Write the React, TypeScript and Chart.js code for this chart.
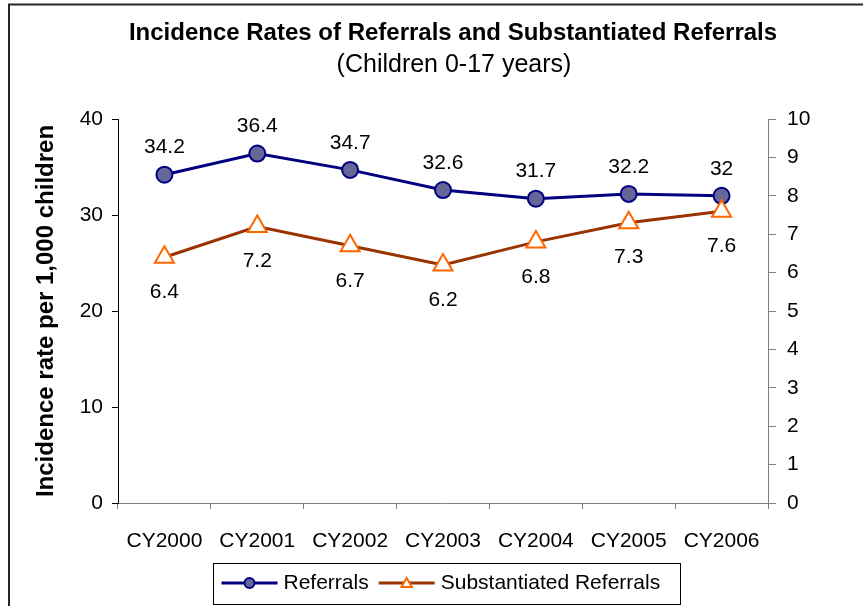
import { useEffect, useRef } from "react";
import { Chart, registerables } from "chart.js";

Chart.register(...registerables);

const categories = ["CY2000", "CY2001", "CY2002", "CY2003", "CY2004", "CY2005", "CY2006"];
const referrals = [34.2, 36.4, 34.7, 32.6, 31.7, 32.2, 32];
const substantiated = [6.4, 7.2, 6.7, 6.2, 6.8, 7.3, 7.6];
const leftAxisRange = [0, 40, 10]; // min, max, step
const rightAxisRange = [0, 10, 1];
const seriesNames = ["Referrals", "Substantiated Referrals"];
const titleText = "Incidence Rates of Referrals and Substantiated Referrals";
const subtitleText = "(Children 0-17 years)";
const yTitleText = "Incidence rate per 1,000 children";

const FAMILY = "'Liberation Sans', Arial, Helvetica, sans-serif";

const NAVY = "#000080";
const CIRCLE_FILL = "#666699";
const BROWN = "#993300";
const ORANGE = "#FF6600";

function drawMarker(ctx: CanvasRenderingContext2D, kind: string, x: number, y: number, r: number) {
  ctx.save();
  ctx.lineWidth = 2;
  ctx.beginPath();
  if (kind === "circle") {
    ctx.arc(x, y, r, 0, Math.PI * 2);
    ctx.fillStyle = CIRCLE_FILL;
    ctx.strokeStyle = NAVY;
  } else {
    const h = r * 1.5;
    const w = r * Math.sqrt(3);
    ctx.moveTo(x, y - r);
    ctx.lineTo(x + w / 2, y - r + h);
    ctx.lineTo(x - w / 2, y - r + h);
    ctx.closePath();
    ctx.fillStyle = "#ffffff";
    ctx.strokeStyle = ORANGE;
  }
  ctx.fill();
  ctx.stroke();
  ctx.restore();
}

const framePlugin = {
  id: "frame",
  beforeDraw(chart: any) {
    const ctx = chart.ctx as CanvasRenderingContext2D;
    ctx.save();
    ctx.fillStyle = "#ffffff";
    ctx.fillRect(0, 0, chart.width, chart.height);
    ctx.strokeStyle = "#262626";
    ctx.lineWidth = 2;
    ctx.strokeRect(9, 4.5, chart.width + 20, chart.height + 20);
    ctx.restore();
  },
};

const titlePlugin = {
  id: "titles",
  afterDraw(chart: any) {
    const ctx = chart.ctx as CanvasRenderingContext2D;
    ctx.save();
    ctx.fillStyle = "#000";
    ctx.textAlign = "center";
    ctx.textBaseline = "middle";
    ctx.font = `bold 24px ${FAMILY}`;
    ctx.fillText(titleText, 453, 33);
    ctx.font = `25px ${FAMILY}`;
    ctx.fillText(subtitleText, 454, 65);
    ctx.restore();
  },
};

const dataLabelPlugin = {
  id: "dataLabels",
  afterDatasetsDraw(chart: any) {
    const ctx = chart.ctx as CanvasRenderingContext2D;
    ctx.save();
    ctx.fillStyle = "#000";
    ctx.textAlign = "center";
    ctx.textBaseline = "middle";
    ctx.font = `21px ${FAMILY}`;
    chart.data.datasets.forEach((ds: any, di: number) => {
      const meta = chart.getDatasetMeta(di);
      const dy = di === 0 ? -27 : 35;
      meta.data.forEach((pt: any, i: number) => {
        ctx.fillText(String(ds.data[i]), pt.x, pt.y + dy);
      });
    });
    ctx.restore();
  },
};

const legendPlugin = {
  id: "boxLegend",
  afterDraw(chart: any) {
    const ctx = chart.ctx as CanvasRenderingContext2D;
    ctx.save();
    ctx.font = `21px ${FAMILY}`;
    const w1 = ctx.measureText(seriesNames[0]).width;
    const lineLen = 56, gap = 6, itemGap = 10, padL = 8;
    const left = 213.5, right = 680.5;
    const top = 563.5, height = 41;
    ctx.strokeStyle = "#000";
    ctx.lineWidth = 1;
    ctx.strokeRect(left, top, right - left, height);
    const cy = 583;
    let x = left + padL;
    const items = [
      { color: NAVY, kind: "circle", r: 5, text: seriesNames[0], w: w1 },
      { color: BROWN, kind: "triangle", r: 6, text: seriesNames[1], w: 0 },
    ];
    items.forEach((it, idx) => {
      ctx.strokeStyle = it.color;
      ctx.lineWidth = 3;
      ctx.beginPath();
      ctx.moveTo(x, cy);
      ctx.lineTo(x + lineLen, cy);
      ctx.stroke();
      drawMarker(ctx, it.kind, x + lineLen / 2, it.kind === "circle" ? cy : cy + 1, it.r);
      x += lineLen + gap;
      ctx.fillStyle = "#000";
      ctx.textAlign = "left";
      ctx.textBaseline = "middle";
      ctx.fillText(it.text, x, cy);
      x += it.w + (idx === 0 ? itemGap : 0);
    });
    ctx.restore();
  },
};

export default function App() {
  const ref = useRef<HTMLCanvasElement>(null);

  useEffect(() => {
    document.body.style.margin = "0";
    const canvas = ref.current;
    if (!canvas) return;
    const tickFont = { family: FAMILY, size: 21 };
    const chart = new Chart(canvas, {
      type: "line",
      data: {
        labels: categories,
        datasets: [
          {
            label: seriesNames[0],
            data: referrals,
            yAxisID: "y",
            order: 1,
            borderColor: NAVY,
            borderWidth: 3,
            tension: 0,
            fill: false,
            pointStyle: "circle",
            pointRadius: 8,
            pointHoverRadius: 8,
            pointBackgroundColor: CIRCLE_FILL,
            pointBorderColor: NAVY,
            pointBorderWidth: 2,
          },
          {
            label: seriesNames[1],
            data: substantiated,
            yAxisID: "y2",
            order: 0,
            borderColor: BROWN,
            borderWidth: 3,
            tension: 0,
            fill: false,
            pointStyle: "triangle",
            pointRadius: 11,
            pointHoverRadius: 11,
            pointBackgroundColor: "#ffffff",
            pointBorderColor: ORANGE,
            pointBorderWidth: 2,
          },
        ],
      },
      options: {
        animation: false,
        responsive: false,
        devicePixelRatio: 1,
        events: [],
        layout: { padding: { top: 119, left: 0, right: 0, bottom: 0 } },
        plugins: {
          legend: { display: false },
          tooltip: { enabled: false },
          title: { display: false },
        },
        scales: {
          x: {
            type: "category",
            offset: true,
            grid: {
              offset: true,
              drawOnChartArea: false,
              drawTicks: true,
              tickLength: 6,
              color: "#808080",
            },
            border: { display: true, color: "#808080", width: 1 },
            ticks: {
              color: "#000",
              font: tickFont,
              padding: 20,
              maxRotation: 0,
              autoSkip: false,
            },
            afterFit: (s: any) => {
              s.height = 103;
            },
          },
          y: {
            position: "left",
            min: leftAxisRange[0],
            max: leftAxisRange[1],
            ticks: {
              stepSize: leftAxisRange[2],
              color: "#000",
              font: tickFont,
              padding: 9,
            },
            grid: { drawOnChartArea: false, drawTicks: true, tickLength: 6, color: "#000" },
            border: { display: true, color: "#000", width: 1 },
            title: {
              display: true,
              text: yTitleText,
              color: "#000",
              font: { family: FAMILY, size: 24, weight: "bold" },
              padding: { top: 32, bottom: 0 },
            },
            afterFit: (s: any) => {
              s.width = 118;
            },
          },
          y2: {
            position: "right",
            min: rightAxisRange[0],
            max: rightAxisRange[1],
            ticks: {
              stepSize: rightAxisRange[2],
              color: "#000",
              font: tickFont,
              padding: 11,
            },
            grid: { drawOnChartArea: false, drawTicks: true, tickLength: 8, color: "#808080" },
            border: { display: true, color: "#808080", width: 1 },
            afterFit: (s: any) => {
              s.width = 95;
            },
          },
        },
      } as any,
      plugins: [framePlugin, titlePlugin, dataLabelPlugin, legendPlugin],
    });
    return () => chart.destroy();
  }, []);

  return (
    <div style={{ width: 863, height: 606, position: "relative" }}>
      <canvas ref={ref} width={863} height={606} style={{ display: "block" }} />
    </div>
  );
}
